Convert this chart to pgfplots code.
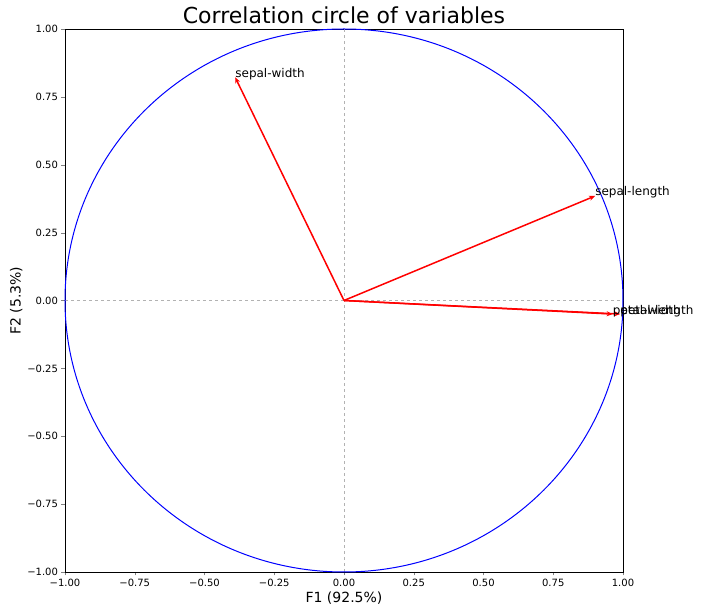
\documentclass[border=0pt]{standalone}
\usepackage{pgfplots}
\pgfplotsset{compat=1.18}
\usepackage{pgfplotstable}
\usepackage{fontspec}
\setmainfont{DejaVu Sans}
\usetikzlibrary{arrows.meta}
\pgfplotstableread{
x y u v label
0 0 0.900 0.385 sepal-length
0 0 -0.390 0.822 sepal-width
0 0 0.990 -0.050 petal-length
0 0 0.963 -0.050 petal-width
}\vecs
\begin{document}
\begin{tikzpicture}
\begin{axis}[
  scale only axis, width=558pt, height=543pt,
  xmin=-1, xmax=1, ymin=-1, ymax=1,
  xtick={-1,-0.75,-0.5,-0.25,0,0.25,0.5,0.75,1},
  ytick={-1,-0.75,-0.5,-0.25,0,0.25,0.5,0.75,1},
  xticklabels={−1.00,−0.75,−0.50,−0.25,0.00,0.25,0.50,0.75,1.00},
  yticklabels={−1.00,−0.75,−0.50,−0.25,0.00,0.25,0.50,0.75,1.00},
  xticklabel style={font=\fontsize{10}{12}\selectfont},
  yticklabel style={font=\fontsize{10}{12}\selectfont},
  tick align=outside, tick pos=left, major tick length=3.5pt,
  xlabel={F1 (92.5\%)}, ylabel={F2 (5.3\%)},
  xlabel style={font=\fontsize{14}{16}\selectfont, yshift=2pt},
  ylabel style={font=\fontsize{14}{16}\selectfont, yshift=-2pt},
  title={Correlation circle of variables},
  title style={font=\fontsize{22}{26}\selectfont, yshift=-4pt},
  axis line style={line width=0.8pt},
  clip=false,
]
\addplot[gray!60, dashed, line width=0.8pt] coordinates {(-1,0) (1,0)};
\addplot[gray!60, dashed, line width=0.8pt] coordinates {(0,-1) (0,1)};
\draw[blue, line width=1pt] (axis cs:0,0) ellipse [x radius=1, y radius=1];
\addplot[red, line width=1.5pt, -{Stealth[length=6pt,width=5pt]},
  quiver={u=\thisrow{u}, v=\thisrow{v}}] table[x=x, y=y] {\vecs};
\addplot[only marks, mark=none, nodes near coords, point meta=explicit symbolic,
  nodes near coords style={anchor=base west, inner sep=0pt, font=\fontsize{12}{14}\selectfont, text=black}]
  table[x=u, y=v, meta=label] {\vecs};
\end{axis}
\pgfresetboundingbox
\path (-65pt,-41pt) rectangle (656pt,572pt);
\end{tikzpicture}
\end{document}
